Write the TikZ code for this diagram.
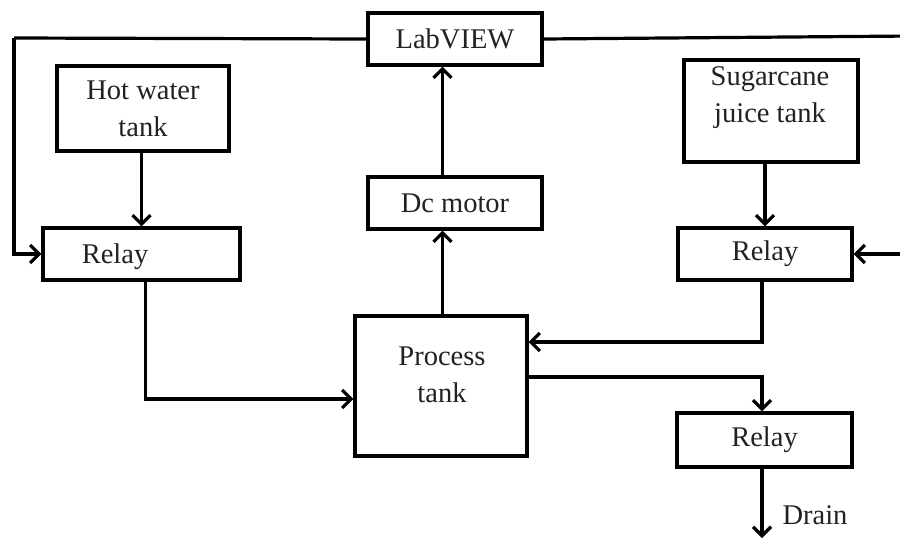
\documentclass[tikz,border=0pt]{standalone}
\usepackage{fontspec}
\setmainfont{Liberation Serif}
\usetikzlibrary{arrows.meta,calc}
\definecolor{txtc}{HTML}{222222}
\begin{document}
\begin{tikzpicture}[x=1pt,y=-1pt,
  box/.style={draw=black, line width=3.2pt, rectangle, inner sep=0pt, text=txtc,
    font=\fontsize{28.5}{37}\selectfont, align=center},
  txt/.style={inner sep=0pt, text=txtc, font=\fontsize{28.5}{37}\selectfont, align=center},
  arr/.style={draw=black, line width=3.2pt, -{Straight Barb[length=9pt,width=18pt,line width=3.2pt]}},
  ln/.style={draw=black, line width=3.2pt}]
\clip (0,0) rectangle (900,539);
\fill[white] (0,0) rectangle (900,539);
% boxes
\node[box, minimum width=174pt, minimum height=52pt] (lab) at (455,39) {LabVIEW};
\node[box, minimum width=172pt, minimum height=85pt] (hot) at (143,108.5) {Hot water\\tank};
\node[box, minimum width=174pt, minimum height=102pt] (sug) at (771,111) {};
\node[txt] (sugT) at (770,98) {Sugarcane\\juice tank};
\node[box, minimum width=174pt, minimum height=52pt] (dc) at (455,203) {Dc motor};
\node[box, minimum width=197pt, minimum height=52pt] (relL) at (141.5,254) {};
\node[txt] (relLT) at (115,257) {Relay};
\node[box, minimum width=174pt, minimum height=52pt] (relR) at (765,254) {Relay};
\node[box, minimum width=172pt, minimum height=140pt] (proc) at (441,386) {};
\node[txt] (procT) at (442,375) {Process\\tank};
\node[box, minimum width=175pt, minimum height=54pt] (relB) at (764.5,440) {Relay};
\node[txt] (drain) at (815,515) {Drain};
% coordinates
\coordinate (cL) at (14,38);
\coordinate (cR) at (912,36);
\coordinate (dEnd) at (762,538);
% connectors
\draw[ln] (lab.west) -- (cL);
\draw[arr] (cL) |- (relL.west);
\draw[ln] (lab.east) -- (cR);
\draw[arr] (cR) |- (relR.east);
\draw[arr] (relL.north |- hot.south) -- (relL.north);
\draw[arr] (relR.north |- sug.south) -- (relR.north);
\draw[arr] ([xshift=4pt]relL.south) |- ([yshift=-13pt]proc.west);
\draw[arr] ([xshift=-3pt]relR.south) |- ([yshift=44pt]proc.east);
\draw[arr] ([yshift=9pt]proc.east) -| ([xshift=-2.5pt]relB.north);
\draw[arr] ([xshift=1.5pt]proc.north) -- ([xshift=1.5pt]proc.north |- dc.south);
\draw[arr] ([xshift=1.5pt]proc.north |- dc.north) -- ([xshift=1.5pt]proc.north |- lab.south);
\draw[arr] ([xshift=-2.5pt]relB.south) -- (dEnd);
\end{tikzpicture}
\end{document}
